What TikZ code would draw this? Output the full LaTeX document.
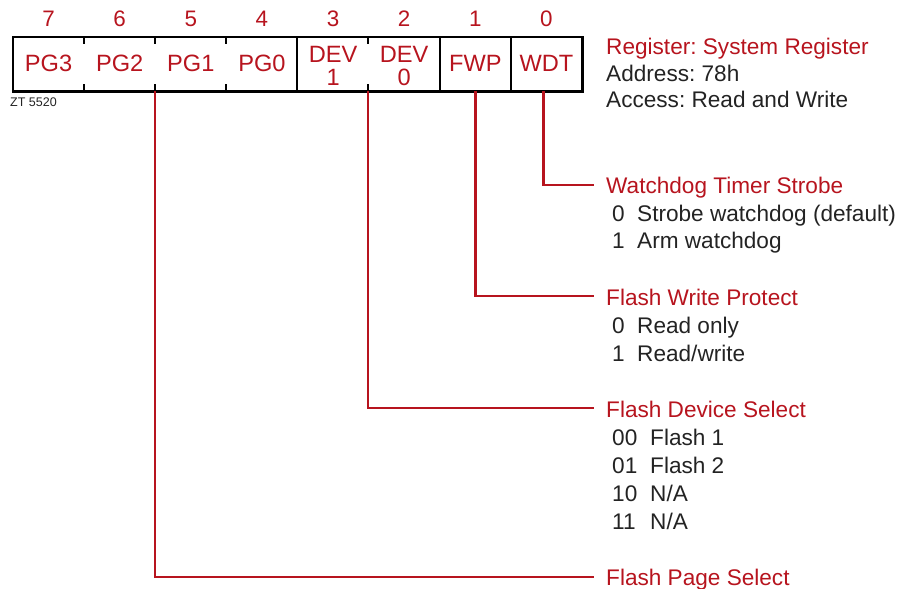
\documentclass[tikz,border=0pt]{standalone}
\usepackage{fontspec}
\setmainfont{Liberation Sans}
\frenchspacing
\definecolor{regred}{RGB}{183,20,30}
\definecolor{txtdark}{RGB}{35,35,35}
\tikzset{
  cell/.style={rectangle, inner sep=0pt, minimum width=71.125pt, minimum height=54pt},
  celltext/.style={anchor=base, inner sep=0pt, text=regred, font=\fontsize{23.6}{26}\selectfont},
  bitnum/.style={anchor=base, inner sep=0pt, text=regred, font=\fontsize{22.4}{26}\selectfont},
  outerline/.style={draw=black, line width=2.6pt},
  divline/.style={draw=black, line width=1.9pt},
  conn/.style={draw=regred, line width=2.4pt},
  fieldtitle/.style={anchor=base west, inner sep=0pt, text=regred, font=\fontsize{22.6}{26}\selectfont},
  fieldtext/.style={anchor=base west, inner sep=0pt, text=txtdark, font=\fontsize{22.6}{26}\selectfont},
  smalltag/.style={anchor=base west, inner sep=0pt, text=txtdark, font=\fontsize{12.5}{14}\selectfont}
}
\begin{document}
\begin{tikzpicture}[x=1pt, y=-1pt]
\useasboundingbox (0,0) rectangle (900,589);

% register cells, bit numbers and field names
\foreach \n/\b [count=\i from 0] in {pgthree/7, pgtwo/6, pgone/5, pgzero/4, devone/3, devzero/2, fwp/1, wdt/0} {
  \node[cell] (\n) at ({13+71.125*(\i+0.5)}, 64) {};
  \node[bitnum] (\n-bit) at ({13+71.125*(\i+0.5)}, 26) {\b};
}
\node[celltext] (pgthree-t) at (pgthree.center |- 0,71) {PG3};
\node[celltext] (pgtwo-t)   at (pgtwo.center |- 0,71) {PG2};
\node[celltext] (pgone-t)   at (pgone.center |- 0,71) {PG1};
\node[celltext] (pgzero-t)  at (pgzero.center |- 0,71) {PG0};
\node[celltext] (devone-a)  at (devone.center |- 0,62) {DEV};
\node[celltext] (devone-b)  at (devone.center |- 0,85.5) {1};
\node[celltext] (devzero-a) at (devzero.center |- 0,62) {DEV};
\node[celltext] (devzero-b) at (devzero.center |- 0,85.5) {0};
\node[celltext] (fwp-t)     at (fwp.center |- 0,71) {FWP};
\node[celltext] (wdt-t)     at (wdt.center |- 0,71) {WDT};

% outline, full dividers and short ticks
\draw[outerline] (pgthree.north west) rectangle (wdt.south east);
\foreach \n in {devone, fwp, wdt}
  \draw[divline] (\n.north west) -- (\n.south west);
\foreach \n in {pgtwo, pgone, pgzero, devzero} {
  \draw[divline] (\n.north west) -- ++(0,7.5);
  \draw[divline] (\n.south west) -- ++(0,-7.5);
}

\node[smalltag] (tag) at (10,106) {ZT 5520};

% register header
\node[fieldtitle] (hdr) at (606,54) {Register: System Register};
\node[fieldtext] (addr) at (606,81) {Address: 78h};
\node[fieldtext] (acc) at (606,107.5) {Access: Read and Write};

% bit 0
\node[fieldtitle] (wdt-lbl) at (606,193) {Watchdog Timer Strobe};
\node[fieldtext] (wdt-c0) at (612,221) {0};
\node[fieldtext] (wdt-d0) at (637,221) {Strobe watchdog (default)};
\node[fieldtext] (wdt-c1) at (612,248) {1};
\node[fieldtext] (wdt-d1) at (637,248) {Arm watchdog};

% bit 1
\node[fieldtitle] (fwp-lbl) at (606,305) {Flash Write Protect};
\node[fieldtext] (fwp-c0) at (612,333) {0};
\node[fieldtext] (fwp-d0) at (637,333) {Read only};
\node[fieldtext] (fwp-c1) at (612,361) {1};
\node[fieldtext] (fwp-d1) at (637,361) {Read/write};

% bits 3-2
\node[fieldtitle] (dev-lbl) at (606,417) {Flash Device Select};
\node[fieldtext] (dev-c0) at (612,445) {00};
\node[fieldtext] (dev-d0) at (650,445) {Flash 1};
\node[fieldtext] (dev-c1) at (612,473) {01};
\node[fieldtext] (dev-d1) at (650,473) {Flash 2};
\node[fieldtext] (dev-c2) at (612,501) {10};
\node[fieldtext] (dev-d2) at (650,501) {N/A};
\node[fieldtext] (dev-c3) at (612,529) {11};
\node[fieldtext] (dev-d3) at (650,529) {N/A};

% bits 7-4
\node[fieldtitle] (pg-lbl) at (606,585) {Flash Page Select};

% connector ends
\coordinate (wdt-end) at (594,185);
\coordinate (fwp-end) at (594,296);
\coordinate (dev-end) at (594,408);
\coordinate (pg-end)  at (594,577);

\draw[conn] ([xshift=-3pt]wdt.south) |- (wdt-end);
\draw[conn] (fwp.south) |- (fwp-end);
\draw[conn] ([xshift=-0.5pt]devzero.south west) |- (dev-end);
\draw[conn] (pgone.south west) |- (pg-end);
\end{tikzpicture}
\end{document}
